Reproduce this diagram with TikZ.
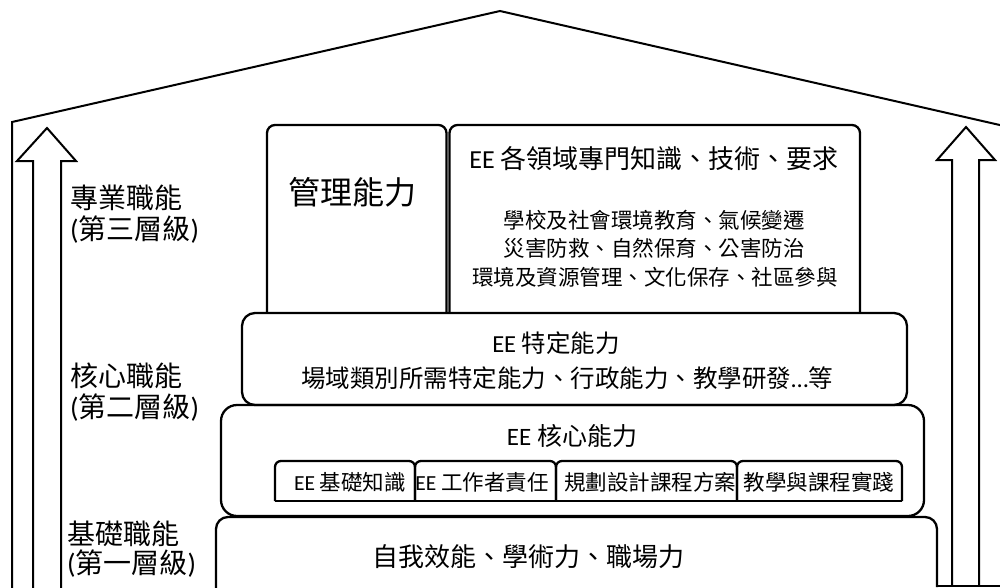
\documentclass[tikz,border=0pt]{standalone}
\usepackage{fontspec}
\setmainfont{Carlito}
\newfontfamily\cjk{Noto Sans CJK TC}
\newcommand\fsz[1]{\fontsize{#1}{#1}\selectfont}
\begin{document}
\begin{tikzpicture}[x=1pt,y=-1pt,
  outline/.style={line width=2pt, line join=miter},
  box/.style={line width=2.3pt},
  txt/.style={anchor=base, inner sep=0pt},
  side/.style={anchor=base west, inner sep=0pt, font={\fsz{28}}}]
\useasboundingbox (0,0) rectangle (1000,587);
% house
\draw[outline] (12,590) -- (12,122) -- (500,11) -- (1002,125.5);
% arrows
\draw[outline] (33,590) -- (33,161) -- (17,161) -- (47,128) -- (76,161) -- (61,161) -- (61,590);
\draw[outline] (952,586) -- (952,160) -- (937,160) -- (966,127) -- (995,160) -- (979,160) -- (979,586);
\draw[box] (937,586) -- (1002,586);
% base box
\draw[box, rounded corners=12] (216,592) -- (216,517) -- (937,517) -- (937,587);
% core box
\draw[box, rounded corners=16] (221,405) rectangle (924,516);
% specific box
\draw[box, rounded corners=13] (242,313) rectangle (907,405);
% top boxes
\draw[box, rounded corners=8] (267,313) -- (267,125) -- (446.5,125) -- (446.5,313);
\draw[box, rounded corners=8] (449.5,313) -- (449.5,125) -- (860,125) -- (860,313);
% sub boxes
\draw[box, rounded corners=6] (275,501) -- (275,461) -- (415,461) -- (415,501);
\draw[box, rounded corners=6] (415,501) -- (415,461) -- (556,461) -- (556,501);
\draw[box, rounded corners=6] (556,501) -- (556,461) -- (737,461) -- (737,501);
\draw[box, rounded corners=6] (737,501) -- (737,461) -- (902,461) -- (902,501);
\draw[box] (275,501) -- (902,501);
% texts
\node[txt, font={\fsz{32}}] (mgmt) at (352,204) {\cjk 管理能力};
\node[txt, font={\fsz{26}}] (field) at (654,168) {EE {\cjk 各領域專門知識、技術、要求}};
\node[txt, font={\fsz{21.5}}] (f1) at (654,228) {\cjk 學校及社會環境教育、氣候變遷};
\node[txt, font={\fsz{21.5}}] (f2) at (654,256) {\cjk 災害防救、自然保育、公害防治};
\node[txt, font={\fsz{21.5}}] (f3) at (655,285) {\cjk 環境及資源管理、文化保存、社區參與};
\node[txt, font={\fsz{24.5}}] (spec) at (556,352) {EE {\cjk 特定能力}};
\node[txt, font={\fsz{24.5}}] (specd) at (567,387) {{\cjk 場域類別所需特定能力、行政能力、教學研發}…{\cjk 等}};
\node[txt, font={\fsz{25}}] (core) at (572,445) {EE {\cjk 核心能力}};
\node[txt, font={\fsz{21.5}}] (c1) at (350,490) {EE {\cjk 基礎知識}};
\node[txt, font={\fsz{21.5}}] (c2) at (482,490) {EE {\cjk 工作者責任}};
\node[txt, font={\fsz{21.5}}] (c3) at (650,490) {\cjk 規劃設計課程方案};
\node[txt, font={\fsz{21.5}}] (c4) at (819,490) {\cjk 教學與課程實踐};
\node[txt, font={\fsz{26}}] (basic) at (528,566.5) {\cjk 自我效能、學術力、職場力};
% side labels
\node[side] (l3a) at (70,208.5) {\cjk 專業職能};
\node[side] (l3b) at (70,239.5) {({\cjk 第三層級})};
\node[side] (l2a) at (70,386.5) {\cjk 核心職能};
\node[side] (l2b) at (70,417.5) {({\cjk 第二層級})};
\node[side] (l1a) at (67,544.5) {\cjk 基礎職能};
\node[side] (l1b) at (67,573.5) {({\cjk 第一層級})};
\end{tikzpicture}
\end{document}
